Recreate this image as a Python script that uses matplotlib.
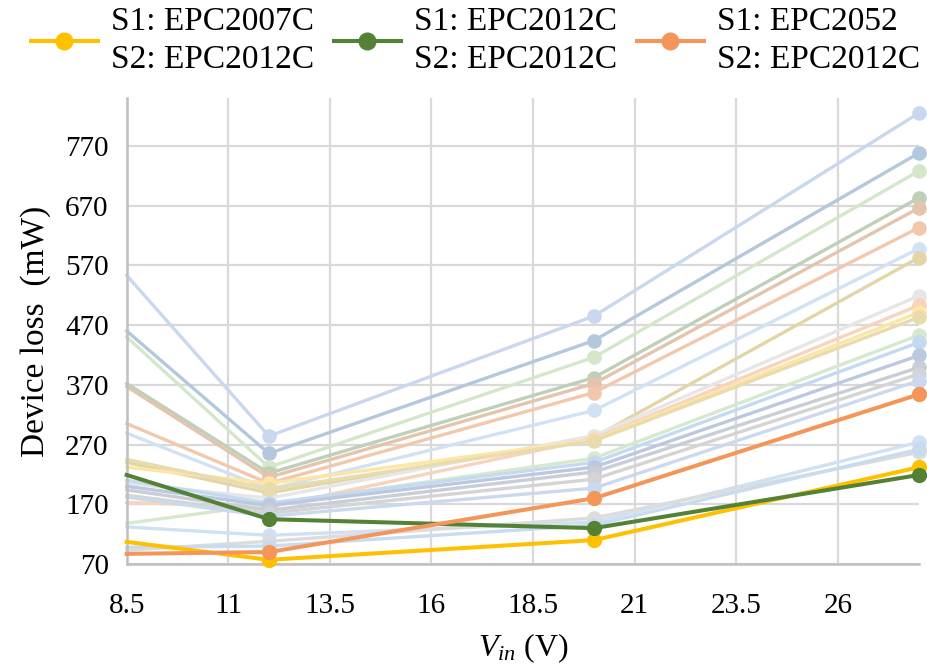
import numpy as np
import matplotlib.pyplot as plt
from matplotlib.lines import Line2D

# input voltage points (first point sits on the left axis edge)
vin = [8.5, 12, 20, 28]

# background designs (faded)
bg_losses = [
    [553, 284, 485, 825],
    [460, 255, 444, 758],
    [450, 232, 416, 728],
    [372, 222, 382, 683],
    [367, 215, 372, 666],
    [305, 205, 357, 633],
    [289, 195, 327, 598],
    [240, 189, 282, 583],
    [205, 180, 285, 519],
    [173, 165, 280, 503],
    [232, 205, 278, 491],
    [245, 195, 276, 483],
    [138, 170, 247, 453],
    [210, 172, 240, 441],
    [200, 168, 232, 419],
    [194, 160, 224, 399],
    [185, 155, 212, 388],
    [182, 150, 197, 377],
    [132, 118, 140, 274],
    [93, 108, 147, 257],
    [98, 100, 135, 262],
]
bg_colors = ['#c9d7ef', '#b3c8dc', '#d4e7cb', '#bfcfb9', '#e3c5ae', '#f2c8ad',
             '#d0e2f3', '#e3d6a6', '#e6e6e6', '#f8d3bd', '#fce5a5', '#e8dcae',
             '#d6e9cd', '#c5daf0', '#bcc8df', '#c8cdd8', '#d4d4d4', '#cbd9ef',
             '#cfe1f3', '#dcdcdc', '#c9dbef']

# highlighted designs
hl_labels = ['S1: EPC2007C\nS2: EPC2012C',
             'S1: EPC2012C\nS2: EPC2012C',
             'S1: EPC2052\nS2: EPC2012C']
hl_losses = [
    [107, 77, 110, 232],
    [219, 145, 130, 219],
    [87, 90, 180, 354],
]
hl_colors = ['#ffc000', '#548235', '#f4965a']

yticks = np.arange(70, 771, 100)
xticks = [8.5, 11, 13.5, 16, 18.5, 21, 23.5, 26]

plt.rcParams['font.family'] = ['Liberation Serif', 'DejaVu Serif']
plt.rcParams['mathtext.fontset'] = 'custom'
plt.rcParams['mathtext.it'] = 'Liberation Serif:italic'
plt.rcParams['mathtext.rm'] = 'Liberation Serif'

fig = plt.figure(figsize=(9.27, 6.68), dpi=100)
ax = fig.add_axes([0.1367, 0.1557, 0.8547, 0.6976])

for vals, c in zip(bg_losses, bg_colors):
    ax.plot(vin, vals, color=c, lw=2.4, marker='o', ms=9.5, markevery=[1, 2, 3],
            clip_on=False, zorder=2)

handles = []
for vals, c, lab in zip(hl_losses, hl_colors, hl_labels):
    ax.plot(vin, vals, color=c, lw=2.9, marker='o', ms=10, markevery=[1, 2, 3],
            clip_on=False, zorder=3)
    handles.append(Line2D([], [], color=c, lw=2.9, marker='o', ms=12, label=lab))

ax.set_xlim(8.5, 28)
ax.set_ylim(70, 850)
ax.set_xticks(xticks)
ax.set_xticklabels([f'{t:g}' for t in xticks])
ax.set_yticks(yticks)
ax.grid(True, color='#d9d9d9', lw=1.6, zorder=0)
ax.set_axisbelow(True)
for s in ['top', 'right']:
    ax.spines[s].set_visible(False)
for s in ['left', 'bottom']:
    ax.spines[s].set_color('#bfbfbf')
    ax.spines[s].set_linewidth(1.8)
ax.tick_params(length=0, labelsize=21)
ax.tick_params(axis='x', pad=21)
ax.tick_params(axis='y', pad=13)

ax.set_ylabel('Device loss  (mW)', fontsize=24, labelpad=10)
ax.set_xlabel('$V_{in}$ (V)', fontsize=23, labelpad=9)

leg = fig.legend(handles=handles, loc='upper center', bbox_to_anchor=(0.513, 1.0),
                 ncol=3, frameon=False, fontsize=24, handlelength=2.0,
                 columnspacing=0.6, handletextpad=0.4, borderpad=0.1,
                 borderaxespad=0.1)
for t in leg.get_texts():
    t.set_linespacing(1.3)

fig.savefig('out.png', dpi=100)
